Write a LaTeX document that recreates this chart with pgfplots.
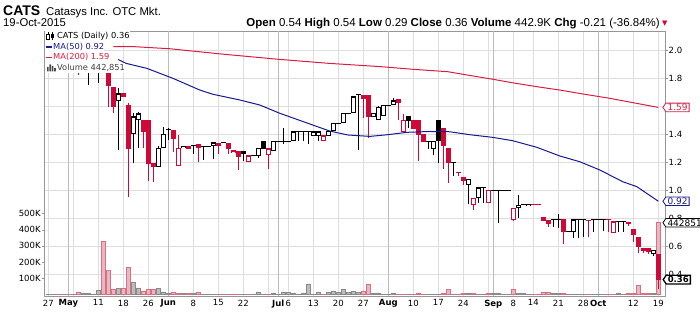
\documentclass[border=0pt]{standalone}
\usepackage{pgfplots}
\pgfplotsset{compat=1.18}
\usepackage{pgfplotstable}
\usepackage{fontspec}
\setmainfont{Liberation Sans}
\newfontfamily\dv{DejaVu Sans}
\usetikzlibrary{shapes.symbols}
\definecolor{cred}{RGB}{208,8,55}
\definecolor{ma50}{RGB}{25,25,145}
\definecolor{ma200}{RGB}{215,30,70}
\definecolor{vred}{RGB}{234,182,192}
\definecolor{vredb}{RGB}{214,112,130}
\definecolor{vgray}{RGB}{188,188,188}
\definecolor{vgrayb}{RGB}{138,138,138}
\definecolor{gridl}{RGB}{222,222,222}
\definecolor{gridd}{RGB}{188,188,188}
\definecolor{framec}{RGB}{150,150,150}

\pgfplotstableread{
i o h l c v k
0 1.90 1.92 1.88 1.90 2 0
1 1.90 1.90 1.90 1.90 1 0
2 1.90 1.90 1.86 1.88 2 1
3 1.88 1.90 1.88 1.90 1 0
4 1.88 1.88 1.86 1.86 3 1
5 1.86 1.87 1.85 1.86 2 0
6 1.86 1.86 1.82 1.84 16 1
7 1.84 1.86 1.84 1.85 10 0
8 1.85 1.86 1.75 1.85 8 0
9 1.85 1.85 1.84 1.85 3 0
10 1.85 1.88 1.766 1.87 27 0
11 1.87 1.90 1.84 1.845 327 1
12 1.834 1.834 1.595 1.75 151 1
13 1.738 1.738 1.552 1.595 29 1
14 1.633 1.726 1.286 1.686 35 0
15 1.69 1.69 1.671 1.671 41 1
16 1.607 1.624 0.952 1.298 168 1
17 1.40 1.552 1.195 1.524 78 0
18 1.50 1.56 1.298 1.543 41 0
19 1.50 1.50 1.298 1.417 22 1
20 1.50 1.50 1.067 1.19 33 1
21 1.19 1.19 1.06 1.167 33 1
22 1.167 1.314 1.167 1.298 39 0
23 1.298 1.452 1.298 1.40 16 0
24 1.43 1.44 1.357 1.43 10 0
25 1.43 1.43 1.274 1.369 16 1
26 1.174 1.39 1.174 1.298 4 1
27 1.298 1.314 1.298 1.314 4 0
28 1.317 1.317 1.298 1.298 4 1
29 1.317 1.317 1.26 1.317 4 0
30 1.326 1.326 1.198 1.307 16 1
31 1.312 1.312 1.217 1.312 2 0
32 1.312 1.312 1.312 1.312 2 0
33 1.317 1.336 1.224 1.336 2 0
34 1.336 1.336 1.255 1.317 2 1
35 1.336 1.336 1.336 1.336 2 0
36 1.336 1.336 1.26 1.298 2 1
37 1.262 1.279 1.262 1.279 2 1
38 1.279 1.279 1.143 1.24 2 1
39 1.279 1.279 1.205 1.262 2 0
40 1.198 1.243 1.198 1.243 2 1
41 1.243 1.243 1.243 1.243 2 0
42 1.243 1.298 1.226 1.298 16 0
43 1.35 1.35 1.298 1.298 2 0
44 1.248 1.293 1.148 1.293 2 1
45 1.279 1.35 1.279 1.35 10 0
46 1.35 1.35 1.35 1.35 2 0
47 1.35 1.44 1.326 1.35 16 0
48 1.35 1.35 1.35 1.35 12 0
49 1.35 1.417 1.35 1.417 10 0
50 1.417 1.417 1.35 1.417 2 0
51 1.417 1.417 1.35 1.417 10 0
52 1.417 1.417 1.326 1.417 65 0
53 1.388 1.417 1.388 1.417 2 0
54 1.388 1.417 1.35 1.417 16 0
55 1.352 1.388 1.352 1.388 2 1
56 1.388 1.421 1.388 1.421 16 0
57 1.421 1.479 1.421 1.476 22 0
58 1.476 1.476 1.476 1.476 12 0
59 1.476 1.548 1.476 1.548 29 0
60 1.548 1.548 1.548 1.548 12 0
61 1.548 1.667 1.548 1.667 22 0
62 1.679 1.679 1.286 1.679 12 0
63 1.679 1.679 1.512 1.655 18 1
64 1.679 1.679 1.374 1.524 65 1
65 1.519 1.548 1.519 1.548 4 0
66 1.50 1.60 1.50 1.59 4 0
67 1.53 1.607 1.53 1.607 2 0
68 1.607 1.607 1.607 1.607 2 0
69 1.607 1.655 1.607 1.636 4 0
70 1.65 1.65 1.50 1.626 2 1
71 1.417 1.545 1.417 1.50 2 1
72 1.53 1.53 1.44 1.50 2 0
73 1.50 1.50 1.44 1.44 2 1
74 1.50 1.50 1.209 1.40 10 1
75 1.40 1.40 1.345 1.345 2 1
76 1.345 1.345 1.29 1.345 2 0
77 1.29 1.35 1.25 1.35 2 0
78 1.50 1.50 1.195 1.352 2 0
79 1.44 1.44 1.148 1.321 6 1
80 1.298 1.298 1.048 1.198 29 1
81 1.198 1.198 1.10 1.198 2 0
82 1.124 1.124 1.10 1.124 2 1
83 1.095 1.095 1.036 1.071 4 1
84 1.036 1.076 0.898 1.076 10 0
85 0.893 0.94 0.857 0.94 4 1
86 0.941 1.017 0.905 1.017 2 0
87 1.017 1.017 0.905 1.017 2 0
88 0.905 1.0 0.905 1.0 4 1
89 1.0 1.0 1.0 1.0 6 0
90 1.0 1.0 0.767 1.0 6 0
91 1.0 1.0 1.0 1.0 2 0
92 1.0 1.0 1.0 1.0 2 0
93 0.786 0.869 0.779 0.869 31 1
94 0.869 0.964 0.798 0.89 6 0
95 0.893 0.893 0.893 0.893 4 0
96 0.883 0.898 0.883 0.898 2 0
97 0.895 0.895 0.895 0.895 2 1
98 0.893 0.893 0.893 0.893 2 1
99 0.805 0.805 0.781 0.781 16 1
100 0.786 0.786 0.733 0.762 14 1
101 0.786 0.786 0.733 0.786 4 0
102 0.79 0.826 0.726 0.79 4 0
103 0.79 0.79 0.612 0.702 4 1
104 0.702 0.702 0.702 0.702 2 0
105 0.702 0.786 0.655 0.786 2 0
106 0.786 0.786 0.655 0.786 2 0
107 0.786 0.786 0.667 0.786 2 0
108 0.783 0.783 0.667 0.783 2 1
109 0.79 0.79 0.702 0.79 2 0
110 0.79 0.79 0.79 0.79 2 0
111 0.79 0.79 0.71 0.79 2 0
112 0.786 0.786 0.702 0.786 2 1
113 0.695 0.774 0.695 0.774 2 1
114 0.774 0.774 0.702 0.774 6 0
115 0.774 0.774 0.702 0.774 2 0
116 0.774 0.774 0.74 0.76 8 1
117 0.721 0.721 0.631 0.679 4 1
118 0.667 0.667 0.552 0.595 55 1
119 0.588 0.588 0.552 0.567 4 1
120 0.583 0.583 0.543 0.559 4 1
121 0.543 0.571 0.529 0.571 4 0
122 0.54 0.54 0.29 0.36 442.851 1
}\cats

\tikzset{tlab/.style={font=\dv\fontsize{8.5bp}{10bp}\selectfont},
  tag/.style={signal, signal to=west, signal pointer angle=110, fill=white, line width=0.8bp,
    inner xsep=1.6bp, inner ysep=0.4bp, minimum height=8.6bp, anchor=west, xshift=-2.6bp,
    font=\dv\fontsize{9bp}{9bp}\selectfont}}
\pgfplotsset{base/.style={at={(44.3bp,16bp)}, anchor=south west, x=5bp, xmin=-0.8, xmax=123.34},
  nomk/.style={only marks, mark=*, mark size=0pt, mark options={draw=none, fill=none}}}

\begin{document}
\begin{tikzpicture}
\useasboundingbox (0,0) rectangle (700bp,312bp);
% grid, frame, price ticks, date labels
\begin{axis}[base, y=140bp, ymin=0.2429, ymax=2.1357,
  axis line style={draw=framec},
  xtick={0,5,10,15,20,29,34,39,44,48,53,58,63,73,78,83,88,93,97,102,107,112,117,122},
  xticklabels={27,,11,18,26,8,15,22,,6,13,20,27,10,17,24,,8,14,21,28,,12,19},
  extra x ticks={4,24,46,68,89,110},
  extra x tick labels={\textbf{May},\textbf{Jun},\textbf{Jul},\textbf{Aug},\textbf{Sep},\textbf{Oct}},
  extra x tick style={major grid style={draw=gridd, line width=0.9bp}},
  xmajorgrids, ymajorgrids, major grid style={draw=gridl, line width=0.9bp},
  ytick={0.4,0.6,0.8,1.0,1.2,1.4,1.6,1.8,2.0},
  yticklabels={0.4,0.6,0.8,1.0,1.2,1.4,,1.8,2.0},
  ytick pos=right, yticklabel pos=right,
  xtick style={draw=none}, ytick style={draw=framec},
  tick align=outside, major tick length=2.5bp,
  ticklabel style={tlab},
  xticklabel style={inner sep=1bp},
  yticklabel style={inner xsep=1bp},
]
\addplot[draw=none] coordinates {(0,1)};
\end{axis}
% volume
\begin{axis}[base, y=0.162bp, ymin=-9.3, ymax=1626.5, axis line style={draw=none},
  xtick=\empty, ytick={100,200,300,400,500}, yticklabels={100K,200K,300K,400K,500K},
  ytick pos=left, tick align=outside, major tick length=2.5bp, ytick style={draw=framec},
  ticklabel style={tlab}, yticklabel style={inner xsep=1bp}, clip=false]
\addplot[ybar, bar width=4.2bp, bar shift=0pt, fill=vgray, draw=vgrayb, line width=0.7bp,
  restrict expr to domain={\thisrow{k}}{-0.5:0.5}] table[x=i, y=v] {\cats};
\addplot[ybar, bar width=4.2bp, bar shift=0pt, fill=vred, draw=vredb, line width=0.7bp,
  restrict expr to domain={\thisrow{k}}{0.5:1.5}] table[x=i, y=v] {\cats};
\node[tag, draw=black, text=black] at (axis cs:123.34,442.851) {442851};
\end{axis}
% candles and moving averages
\begin{axis}[base, y=140bp, ymin=0.2429, ymax=2.1357, axis lines=none, clip=false]
% wicks
\addplot[nomk, restrict expr to domain={\thisrow{k}}{-0.5:0.5},
  error bars/.cd, y dir=minus, y explicit, error mark=none,
  error bar style={line width=1bp, black}]
  table[x=i, y=h, y error minus expr=\thisrow{h}-\thisrow{l}] {\cats};
\addplot[nomk, restrict expr to domain={\thisrow{k}}{0.5:1.5},
  error bars/.cd, y dir=minus, y explicit, error mark=none,
  error bar style={line width=1bp, cred}]
  table[x=i, y=h, y error minus expr=\thisrow{h}-\thisrow{l}] {\cats};
% close dashes
\addplot[only marks, mark=-, mark size=2.6bp, mark options={line width=1bp, draw=black},
  restrict expr to domain={\thisrow{k}}{-0.5:0.5}] table[x=i, y=c] {\cats};
\addplot[only marks, mark=-, mark size=2.6bp, mark options={line width=1bp, draw=cred},
  restrict expr to domain={\thisrow{k}}{0.5:1.5}] table[x=i, y=c] {\cats};
% bodies
\addplot[nomk, restrict expr to domain={\thisrow{k}}{-0.5:0.5},
  error bars/.cd, y dir=plus, y explicit, error mark=none,
  error bar style={line width=5bp, black}]
  table[x=i, y expr={min(\thisrow{o},\thisrow{c})}, y error plus expr={abs(\thisrow{o}-\thisrow{c})}] {\cats};
\addplot[nomk, restrict expr to domain={\thisrow{k}}{0.5:1.5},
  error bars/.cd, y dir=plus, y explicit, error mark=none,
  error bar style={line width=5bp, cred}]
  table[x=i, y expr={min(\thisrow{o},\thisrow{c})}, y error plus expr={abs(\thisrow{o}-\thisrow{c})}] {\cats};
% hollow interiors
\addplot[nomk, restrict expr to domain={\thisrow{c}-\thisrow{o}}{0.012:10},
  error bars/.cd, y dir=plus, y explicit, error mark=none,
  error bar style={line width=3bp, white, shorten <=1bp, shorten >=1bp}]
  table[x=i, y=o, y error plus expr={\thisrow{c}-\thisrow{o}}] {\cats};
% MA(200)
\addplot[ma200, line width=1bp] coordinates {(13,2.024) (17.1,2.024) (24.3,2.009) (35,1.97) (45.9,1.934) (56,1.905) (66.5,1.881) (73,1.862) (79.9,1.845) (84,1.82) (88.9,1.791) (93,1.765) (97.7,1.738) (102.3,1.714) (106.9,1.686) (112.3,1.655) (116.9,1.624) (122,1.59)};
% MA(50)
\addplot[ma50, line width=1bp] coordinates {(14,1.932) (15.5,1.905) (19.7,1.869) (24.9,1.798) (30.3,1.714) (32.9,1.684) (38.3,1.643) (42.3,1.607) (46.3,1.548) (52.9,1.464) (56.3,1.421) (59.9,1.393) (64.3,1.383) (67.9,1.395) (71.7,1.412) (76.3,1.418) (80.3,1.416) (84.3,1.395) (88.9,1.376) (92.9,1.352) (97.7,1.305) (102.3,1.243) (106.3,1.202) (110.3,1.143) (114.9,1.059) (117.7,1.024) (122,0.92)};
\node[tag, draw=ma200, text=ma200] at (axis cs:123.34,1.59) {1.59};
\node[tag, draw=ma50, text=ma50] at (axis cs:123.34,0.92) {0.92};
\node[tag, draw=black, text=black, line width=1.3bp, font=\dv\bfseries\fontsize{8.5bp}{9bp}\selectfont] at (axis cs:123.34,0.36) {0.36};
\end{axis}
% legend
\begin{scope}[every node/.style={anchor=west, fill=white, inner xsep=0bp, inner ysep=0bp, minimum height=10.6bp, font=\dv\fontsize{8.3bp}{10bp}\selectfont}]
\node at (45bp,275.6bp) {\hspace{12bp}CATS (Daily) 0.36\hspace{1bp}};
\node[text=ma50] at (45bp,265.2bp) {\hspace{8bp}MA(50) 0.92\hspace{1bp}};
\node[text=ma200] at (45bp,254.6bp) {\hspace{8bp}MA(200) 1.59\hspace{1bp}};
\node[text=black!75] at (45bp,244bp) {\hspace{12bp}Volume 442,851\hspace{1bp}};
\end{scope}
\draw[black, line width=0.8bp] (48bp,271.5bp) -- (48bp,279.5bp) (52.5bp,271.5bp) -- (52.5bp,279.5bp);
\draw[black, fill=white, line width=0.8bp] (46.8bp,273bp) rectangle (49.2bp,277.5bp);
\fill[black] (51.3bp,273.5bp) rectangle (53.7bp,278bp);
\draw[ma50, line width=1.6bp] (46bp,265.2bp) -- (52bp,265.2bp);
\draw[ma200, line width=1.6bp] (46bp,254.6bp) -- (52bp,254.6bp);
\fill[black!70] (47bp,240.5bp) rectangle (48.6bp,245bp) (49.4bp,240.5bp) rectangle (51bp,247.5bp) (51.8bp,240.5bp) rectangle (53.4bp,246bp) (54.2bp,240.5bp) rectangle (55.8bp,244bp);
% header
\node[anchor=base west, inner sep=0] at (3bp,296bp) {\fontsize{14bp}{16bp}\selectfont\textbf{CATS}};
\node[anchor=base west, inner sep=0] at (46bp,296.5bp) {\fontsize{11.3bp}{13bp}\selectfont Catasys Inc. OTC Mkt.};
\node[anchor=base west, inner sep=0] at (3bp,285bp) {\fontsize{11.3bp}{13bp}\selectfont 19-Oct-2015};
\node[anchor=base east, inner sep=0] at (660bp,285bp) {\fontsize{11.5bp}{13bp}\selectfont\textbf{Open} 0.54 \textbf{High} 0.54 \textbf{Low} 0.29 \textbf{Close} 0.36 \textbf{Volume} 442.9K \textbf{Chg} -0.21 (-36.84\%)};
\node[anchor=base west, inner sep=0, text=cred] at (662bp,286bp) {\dv\fontsize{7bp}{8bp}\selectfont ▼};
\end{tikzpicture}
\end{document}
